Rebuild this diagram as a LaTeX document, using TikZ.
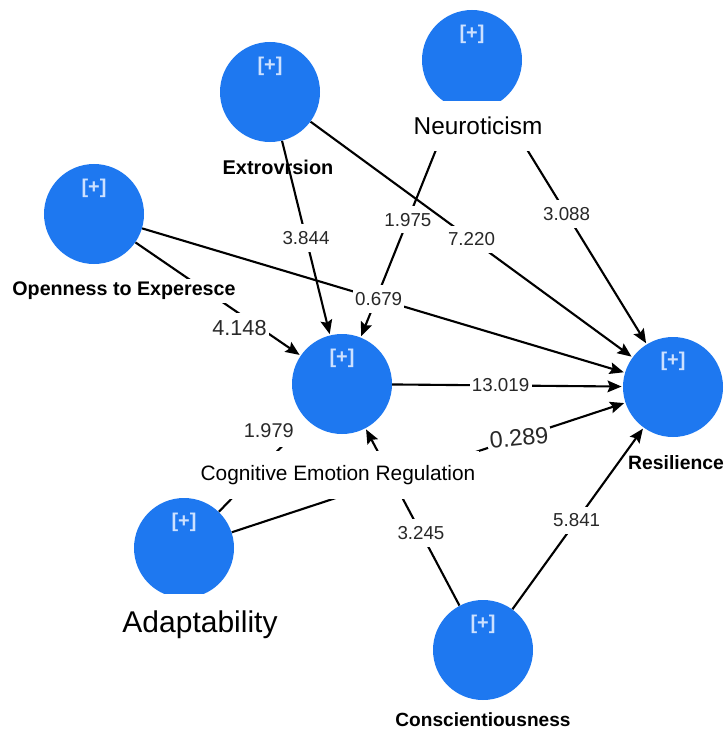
\documentclass[tikz,border=0pt]{standalone}
\usepackage{fontspec}
\setmainfont{Liberation Sans}
\usepackage{tikz}
\usetikzlibrary{arrows.meta}
\definecolor{nodeblue}{RGB}{30,120,240}
\definecolor{plusblue}{RGB}{205,225,255}
\definecolor{coefgray}{RGB}{40,40,40}
\newcommand{\fsize}[1]{\fontsize{#1}{#1}\selectfont}
\pgfdeclarelayer{edgelayer}
\pgfsetlayers{edgelayer,main}

\begin{document}
\begin{tikzpicture}[x=0.03cm, y=-0.03cm,
        >={Stealth[length=12pt, width=10pt, inset=2pt]},
        latent/.style={circle, fill=nodeblue, minimum size=3cm, inner sep=0pt,
            label={[plustag, yshift=0.76cm]center:{[+]}}},
        plustag/.style={text=plusblue, font=\fsize{17}\bfseries},
        lvtext/.style={inner sep=3pt},
        coef/.style={fill=white, text=coefgray, font=\fsize{16},
            inner xsep=2pt, inner ysep=6pt},
        every edge/.style={draw, line width=1.8pt, shorten >=1pt}]
    \useasboundingbox (0, 0) rectangle (724, 730);

    \node[latent] (neu) at (472, 60) {};
    \node[latent] (ext) at (270, 92) {};
    \node[latent] (ope) at (94, 214) {};
    \node[latent] (cer) at (342, 384) {};
    \node[latent] (res) at (673, 387) {};
    \node[latent] (ada) at (184, 548) {};
    \node[latent] (con) at (483, 650) {};

    \begin{pgfonlayer}{edgelayer}
    \node[lvtext, font=\fsize{17}\bfseries] (extname) at (278, 167) {Extrovrsion};

    \draw
    (neu) edge[->] node[coef, pos=0.49] {1.975} (cer)
    (neu) edge[->] node[coef, pos=0.46] {3.088} (res)
    (ext) edge[->] node[coef, pos=0.5] {3.844} (cer)
    (ext) edge[->] node[coef, pos=0.5] {7.220} (res)
    (ope) edge[->] node[coef, pos=0.49] {0.679} (res)
    (ope) edge[->] node[coef, pos=0.63, yshift=-0.42cm, font=\fsize{18.5}] {4.148} (cer)
    (cer) edge[->] node[coef, pos=0.47] {13.019} (res)
    (ada) edge[->] node[coef, pos=0.73, rotate=6, font=\fsize{20}] {0.289} (res)
    (ada) edge[->] node[coef, pos=0.89, xshift=-0.86cm, inner xsep=11pt, inner ysep=8pt,
        font=\fsize{17}] {1.979} (cer)
    (con) edge[->] node[coef, pos=0.41] {3.245} (cer)
    (con) edge[->] node[coef, pos=0.49] {5.841} (res);
    \end{pgfonlayer}

    \node[lvtext, fill=white, minimum height=1.5cm, font=\fsize{20.8}] (neuname) at (478, 126) {Neuroticism};
    \node[lvtext, fill=white, font=\fsize{16.8}\bfseries] (opename) at (124, 291) {Openness to Experesce};
    \node[lvtext, fill=white, minimum height=1.44cm, font=\fsize{17.8}] (cername) at (338, 475) {Cognitive Emotion Regulation};
    \node[lvtext, fill=white, minimum height=1.86cm, font=\fsize{25.6}] (adaname) at (200, 625) {Adaptability};
    \node[lvtext, font=\fsize{16.5}\bfseries] (resname) at (676, 463) {Resilience};
    \node[lvtext, font=\fsize{16.3}\bfseries] (conname) at (483, 720) {Conscientiousness};
\end{tikzpicture}
\end{document}
